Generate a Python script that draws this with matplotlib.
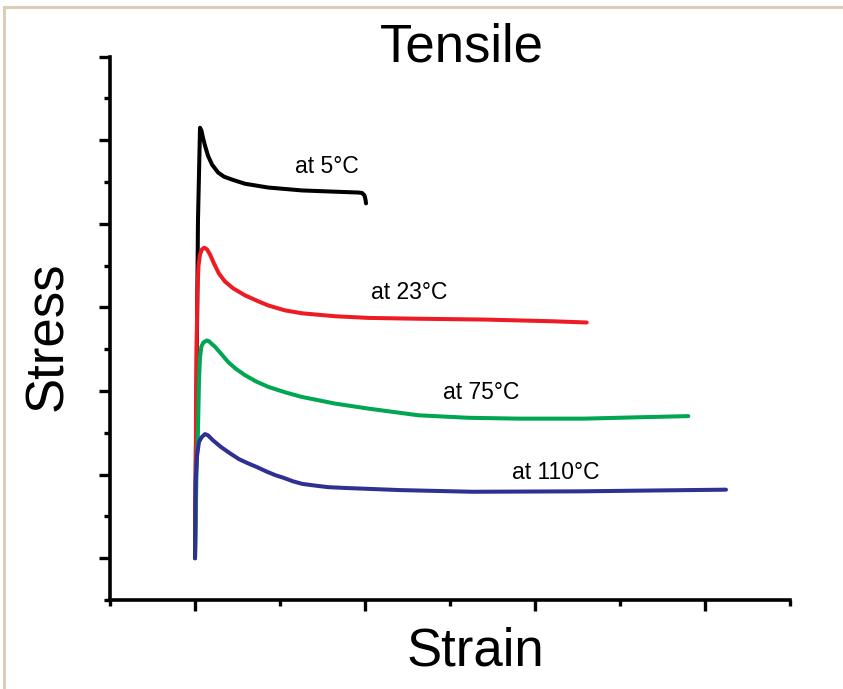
import matplotlib
matplotlib.use("Agg")
import matplotlib.pyplot as plt
from matplotlib.lines import Line2D
from matplotlib.ticker import FixedLocator

plt.rcParams['font.family'] = ['Liberation Sans', 'DejaVu Sans']

# curves (strain, stress in tick units)
strain_5 = [1.0, 1.035, 1.059, 1.076, 1.094, 1.118, 1.153, 1.2, 1.271, 1.341,
            1.435, 1.588, 1.859, 2.259, 2.647, 2.918, 2.965, 2.994, 3.006, 3.012]
stress_5 = [1.0, 9.08, 11.30, 11.23, 11.06, 10.87, 10.63, 10.42, 10.23, 10.13,
            10.06, 9.96, 9.87, 9.80, 9.77, 9.75, 9.74, 9.68, 9.58, 9.49]

strain_23 = [1.0, 1.012, 1.02, 1.029, 1.041, 1.059, 1.082, 1.109, 1.141, 1.176,
             1.224, 1.282, 1.353, 1.447, 1.588, 1.741, 1.859, 2.059, 2.259, 2.647,
             3.039, 3.624, 4.412, 5.196, 5.608]
stress_23 = [1.0, 4.30, 6.21, 7.41, 8.00, 8.27, 8.39, 8.43, 8.39, 8.27,
             8.05, 7.81, 7.62, 7.46, 7.29, 7.15, 7.05, 6.93, 6.86, 6.79,
             6.75, 6.73, 6.71, 6.67, 6.64]

strain_75 = [1.0, 1.018, 1.035, 1.047, 1.059, 1.076, 1.098, 1.138, 1.165, 1.196,
             1.235, 1.274, 1.329, 1.392, 1.482, 1.588, 1.718, 1.862, 2.059, 2.255,
             2.647, 3.039, 3.627, 4.215, 4.804, 5.588, 6.176, 6.804]
stress_75 = [1.0, 3.11, 4.06, 5.26, 5.81, 6.07, 6.16, 6.21, 6.19, 6.13,
             6.06, 5.97, 5.84, 5.69, 5.53, 5.38, 5.23, 5.10, 4.97, 4.86,
             4.70, 4.58, 4.42, 4.36, 4.34, 4.34, 4.37, 4.40]

strain_110 = [1.0, 1.004, 1.009, 1.024, 1.047, 1.076, 1.118, 1.153, 1.212, 1.306,
              1.412, 1.518, 1.624, 1.729, 1.835, 1.941, 2.047, 2.153, 2.259, 2.365,
              2.565, 2.776, 3.412, 4.259, 5.529, 6.376, 7.247]
stress_110 = [1.0, 2.15, 2.87, 3.46, 3.78, 3.89, 3.97, 3.94, 3.82, 3.66,
              3.51, 3.37, 3.27, 3.18, 3.08, 2.99, 2.92, 2.84, 2.78, 2.75,
              2.70, 2.68, 2.63, 2.59, 2.60, 2.62, 2.64]

labels = ["at 5°C", "at 23°C", "at 75°C", "at 110°C"]
label_x = [2.55, 3.52, 4.37, 5.24]
label_y = [10.37, 7.36, 4.97, 3.06]
colors = ["#000000", "#ED1C24", "#00A651", "#2E3192"]

fig = plt.figure(figsize=(8.43, 6.89), dpi=100)
ax = fig.add_axes([110/843, 1-600/689, 680/843, (600-56.7)/689])

curves = [(strain_5, stress_5), (strain_23, stress_23),
          (strain_75, stress_75), (strain_110, stress_110)]
for (xs, ys), c in zip(curves, colors):
    ax.plot(xs, ys, color=c, lw=2.9, solid_capstyle='round', solid_joinstyle='round')

for t, x, y in zip(labels, label_x, label_y):
    ax.text(x, y, t, fontsize=16.5, ha='center', va='center')

ax.set_xlim(0, 8)
ax.set_ylim(0, 13)
for s in ['top', 'right']:
    ax.spines[s].set_visible(False)
for s in ['left', 'bottom']:
    ax.spines[s].set_linewidth(2.6)

ax.xaxis.set_major_locator(FixedLocator([1, 3, 5, 7]))
ax.xaxis.set_minor_locator(FixedLocator([0, 2, 4, 6, 8]))
ax.yaxis.set_major_locator(FixedLocator([1, 3, 5, 7, 9, 11, 13]))
ax.yaxis.set_minor_locator(FixedLocator([0, 2, 4, 6, 8, 10, 12]))
ax.tick_params(which='major', direction='out', length=8, width=2.4)
ax.tick_params(which='minor', direction='out', length=4, width=2.4)
ax.set_xticklabels([])
ax.set_yticklabels([])

fig.text(462/843, 1-48/689, "Tensile", fontsize=38, ha='center', va='center')
fig.text(48/843, 1-336/689, "Stress", fontsize=38, ha='center', va='center', rotation=90)
fig.text(475/843, 1-652/689, "Strain", fontsize=38, ha='center', va='center')

# tan frame lines at top and left
frame_c = "#DCCDB6"
fig.add_artist(Line2D([4/843, 1.0], [1-7/689, 1-7/689], color=frame_c, lw=2.2))
fig.add_artist(Line2D([4/843, 4/843], [0.0, 1-7/689], color=frame_c, lw=2.2))

fig.savefig("out.png", dpi=100)
